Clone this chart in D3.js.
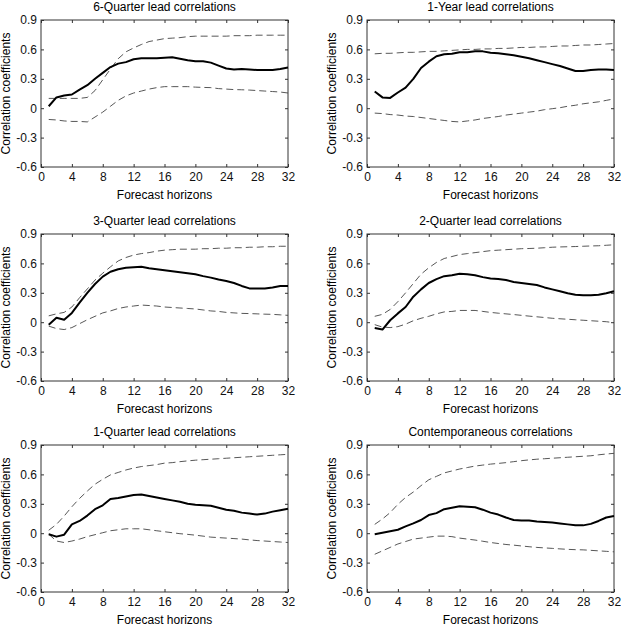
<!DOCTYPE html>
<html>
<head>
<meta charset="utf-8">
<script src="https://cdn.jsdelivr.net/npm/d3@7"></script>
<style>
body { margin: 0; background: #fff; }
text { font-family: "Liberation Sans", Arial, Helvetica, sans-serif; }
</style>
</head>
<body>
<svg id="chart" width="621" height="626"></svg>
<script>
// forecast horizons (quarters)
var horizons = [1,2,3,4,5,6,7,8,9,10,11,12,13,14,15,16,17,18,19,20,21,22,23,24,25,26,27,28,29,30,31,32];
var xTicks = [0,4,8,12,16,20,24,28,32];
var yTicks = [-0.6,-0.3,0,0.3,0.6,0.9];
var yTickLabels = ["-0.6","-0.3","0","0.3","0.6","0.9"];

var titles = ["6-Quarter lead correlations", "1-Year lead correlations",
	"3-Quarter lead correlations", "2-Quarter lead correlations",
	"1-Quarter lead correlations", "Contemporaneous correlations"];

// 6-quarter lead
var lead6Mid = [0.02,0.11,0.13,0.14,0.19,0.235,0.30,0.36,0.42,0.455,0.47,0.50,0.51,0.51,0.51,0.515,0.52,0.505,0.49,0.48,0.48,0.465,0.435,0.405,0.395,0.40,0.395,0.39,0.39,0.39,0.40,0.415];
var lead6Hi = [0.10,0.10,0.10,0.10,0.10,0.11,0.18,0.29,0.40,0.505,0.575,0.615,0.65,0.68,0.695,0.71,0.715,0.72,0.73,0.735,0.735,0.735,0.735,0.735,0.74,0.74,0.74,0.745,0.745,0.745,0.745,0.745];
var lead6Lo = [-0.115,-0.12,-0.13,-0.135,-0.135,-0.14,-0.09,-0.04,0.02,0.08,0.125,0.155,0.175,0.195,0.21,0.22,0.22,0.22,0.22,0.215,0.212,0.21,0.20,0.195,0.19,0.188,0.185,0.18,0.175,0.17,0.165,0.155];
// 1-year lead
var lead4Mid = [0.17,0.11,0.105,0.16,0.21,0.30,0.41,0.475,0.53,0.55,0.555,0.57,0.57,0.58,0.58,0.565,0.56,0.55,0.54,0.525,0.51,0.49,0.47,0.45,0.43,0.405,0.38,0.38,0.39,0.395,0.395,0.39];
var lead4Hi = [0.555,0.56,0.56,0.565,0.57,0.57,0.575,0.58,0.58,0.585,0.59,0.595,0.60,0.60,0.605,0.605,0.61,0.61,0.615,0.62,0.62,0.625,0.625,0.63,0.635,0.635,0.64,0.645,0.645,0.65,0.655,0.66];
var lead4Lo = [-0.05,-0.055,-0.065,-0.07,-0.08,-0.085,-0.095,-0.105,-0.115,-0.125,-0.135,-0.14,-0.13,-0.12,-0.105,-0.095,-0.085,-0.07,-0.06,-0.05,-0.04,-0.03,-0.015,-0.005,0.005,0.02,0.03,0.045,0.055,0.065,0.08,0.095];
// 3-quarter lead
var lead3Mid = [-0.025,0.045,0.025,0.095,0.20,0.30,0.39,0.465,0.515,0.54,0.555,0.56,0.565,0.55,0.54,0.53,0.52,0.51,0.50,0.49,0.47,0.455,0.435,0.42,0.40,0.37,0.345,0.345,0.345,0.355,0.37,0.37];
var lead3Hi = [0.065,0.085,0.10,0.155,0.25,0.34,0.43,0.50,0.565,0.625,0.66,0.685,0.70,0.71,0.725,0.735,0.74,0.745,0.745,0.745,0.75,0.75,0.755,0.755,0.76,0.76,0.765,0.765,0.77,0.77,0.775,0.775];
var lead3Lo = [-0.04,-0.065,-0.075,-0.055,-0.015,0.025,0.06,0.095,0.115,0.14,0.155,0.165,0.175,0.17,0.165,0.155,0.15,0.145,0.14,0.135,0.125,0.115,0.11,0.10,0.095,0.09,0.088,0.085,0.082,0.08,0.075,0.07];
// 2-quarter lead
var lead2Mid = [-0.06,-0.075,0.02,0.09,0.155,0.26,0.335,0.40,0.44,0.47,0.48,0.495,0.49,0.48,0.46,0.445,0.44,0.43,0.41,0.40,0.39,0.38,0.355,0.335,0.315,0.295,0.28,0.275,0.275,0.28,0.295,0.315];
var lead2Hi = [0.06,0.08,0.13,0.21,0.30,0.395,0.49,0.555,0.61,0.65,0.67,0.69,0.70,0.71,0.72,0.73,0.735,0.74,0.745,0.75,0.752,0.755,0.76,0.765,0.768,0.77,0.772,0.775,0.778,0.78,0.785,0.79];
var lead2Lo = [-0.025,-0.05,-0.055,-0.045,-0.02,0.015,0.04,0.06,0.085,0.105,0.11,0.12,0.12,0.12,0.11,0.10,0.092,0.085,0.078,0.07,0.062,0.055,0.048,0.04,0.035,0.03,0.025,0.02,0.015,0.01,0.005,-0.005];
// 1-quarter lead
var lead1Mid = [-0.01,-0.035,-0.015,0.09,0.125,0.18,0.245,0.285,0.35,0.36,0.375,0.39,0.395,0.38,0.365,0.35,0.335,0.32,0.30,0.29,0.285,0.28,0.26,0.24,0.23,0.21,0.20,0.19,0.20,0.22,0.235,0.25];
var lead1Hi = [0.03,0.09,0.175,0.27,0.355,0.43,0.50,0.55,0.595,0.62,0.645,0.665,0.68,0.69,0.70,0.715,0.72,0.73,0.738,0.745,0.75,0.755,0.76,0.765,0.77,0.775,0.78,0.785,0.79,0.795,0.80,0.805];
var lead1Lo = [-0.01,-0.08,-0.095,-0.08,-0.06,-0.035,-0.015,0.005,0.025,0.035,0.045,0.045,0.045,0.035,0.025,0.015,0.005,-0.005,-0.012,-0.02,-0.03,-0.04,-0.045,-0.05,-0.055,-0.06,-0.068,-0.075,-0.08,-0.085,-0.09,-0.095];
// contemporaneous
var lead0Mid = [-0.01,0.005,0.02,0.035,0.07,0.10,0.135,0.185,0.205,0.245,0.26,0.275,0.27,0.265,0.24,0.21,0.19,0.16,0.135,0.13,0.13,0.12,0.115,0.11,0.10,0.09,0.08,0.08,0.095,0.125,0.16,0.175];
var lead0Hi = [0.09,0.145,0.21,0.295,0.365,0.42,0.485,0.545,0.58,0.615,0.635,0.655,0.67,0.685,0.695,0.705,0.712,0.72,0.73,0.74,0.748,0.755,0.76,0.765,0.77,0.775,0.78,0.785,0.79,0.80,0.808,0.815];
var lead0Lo = [-0.215,-0.18,-0.145,-0.11,-0.085,-0.06,-0.05,-0.04,-0.03,-0.03,-0.035,-0.05,-0.06,-0.07,-0.082,-0.095,-0.105,-0.115,-0.122,-0.13,-0.138,-0.145,-0.15,-0.155,-0.16,-0.165,-0.168,-0.17,-0.175,-0.18,-0.185,-0.19];

var mids = [lead6Mid, lead4Mid, lead3Mid, lead2Mid, lead1Mid, lead0Mid];
var his = [lead6Hi, lead4Hi, lead3Hi, lead2Hi, lead1Hi, lead0Hi];
var los = [lead6Lo, lead4Lo, lead3Lo, lead2Lo, lead1Lo, lead0Lo];

var svg = d3.select("#chart");
var colLeft = [41, 367];
var rowTop = [20, 234, 445];
var w = 247, h = 147;

function drawPanel(i) {
	var left = colLeft[i % 2];
	var top = rowTop[Math.floor(i / 2)];
	var g = svg.append("g").attr("transform", "translate(" + left + "," + top + ")");
	var x = d3.scaleLinear().domain([0, 32]).range([0, w]);
	var y = d3.scaleLinear().domain([-0.6, 0.9]).range([h, 0]);

	// axes with inward ticks on all four sides
	var fmt = function (d) { return yTickLabels[yTicks.indexOf(d)]; };
	var ax = g.append("g").attr("transform", "translate(0," + h + ")")
		.call(d3.axisBottom(x).tickValues(xTicks).tickSize(-3).tickPadding(5));
	var ay = g.append("g")
		.call(d3.axisLeft(y).tickValues(yTicks).tickFormat(fmt).tickSize(-3).tickPadding(4));
	var at = g.append("g")
		.call(d3.axisTop(x).tickValues(xTicks).tickSize(-3).tickFormat(""));
	var ar = g.append("g").attr("transform", "translate(" + w + ",0)")
		.call(d3.axisRight(y).tickValues(yTicks).tickSize(-3).tickFormat(""));
	[ax, ay, at, ar].forEach(function (a) {
		a.select(".domain").remove();
		a.selectAll("line").attr("stroke", "#333");
		a.selectAll("text").attr("font-size", 12).attr("fill", "#111")
			.style("font-family", '"Liberation Sans", Arial, sans-serif');
	});

	g.append("rect").attr("width", w).attr("height", h)
		.attr("fill", "none").attr("stroke", "#333").attr("stroke-width", 1);

	var line = d3.line()
		.x(function (d, j) { return x(horizons[j]); })
		.y(function (d) { return y(d); });

	[his[i], los[i]].forEach(function (band) {
		g.append("path").datum(band).attr("d", line)
			.attr("fill", "none").attr("stroke", "#444").attr("stroke-width", 0.9)
			.attr("stroke-dasharray", "7,4");
	});
	g.append("path").datum(mids[i]).attr("d", line)
		.attr("fill", "none").attr("stroke", "#000").attr("stroke-width", 2)
		.attr("stroke-linejoin", "round");

	g.append("text").attr("x", w / 2).attr("y", -9)
		.attr("text-anchor", "middle").attr("font-size", 12).text(titles[i]);
	g.append("text").attr("x", w / 2).attr("y", h + 32)
		.attr("text-anchor", "middle").attr("font-size", 12).text("Forecast horizons");
	g.append("text").attr("transform", "translate(-31," + (h / 2) + ") rotate(-90)")
		.attr("text-anchor", "middle").attr("font-size", 12).text("Correlation coefficients");
}

for (var i = 0; i < titles.length; i++) {
	drawPanel(i);
}
</script>
</body>
</html>
